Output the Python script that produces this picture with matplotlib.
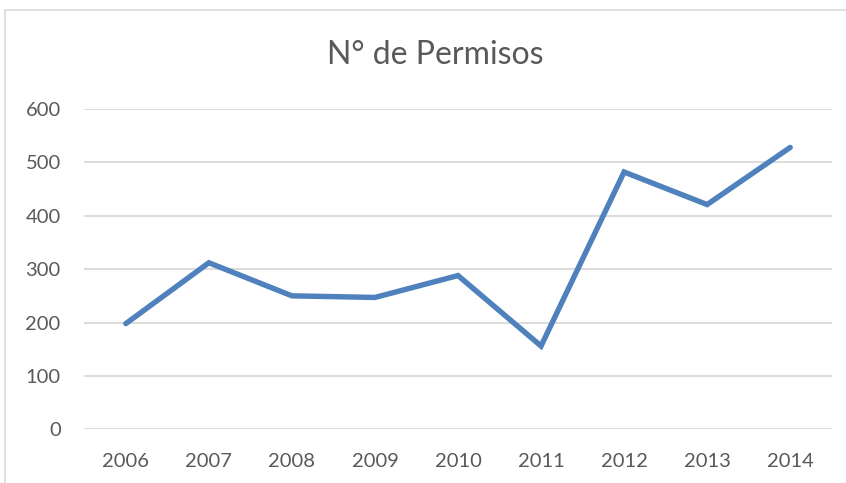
import matplotlib.pyplot as plt
from matplotlib.patches import Rectangle

# Number of permits per year
years = ['2006', '2007', '2008', '2009', '2010', '2011', '2012', '2013', '2014']
permisos = [198, 312, 250, 247, 288, 156, 482, 421, 528]
y_ticks = [0, 100, 200, 300, 400, 500, 600]

plt.rcParams['font.family'] = ['Lato', 'DejaVu Sans']

fig = plt.figure(figsize=(8.46, 4.83), dpi=100)

# light border of the chart box (cut off at right and bottom)
fig.patches.append(Rectangle((5 / 846, -0.1), 1.2, 1 - 10 / 483 + 0.1,
                             transform=fig.transFigure, fill=False,
                             edgecolor='#D9D9D9', linewidth=1.2))

ax = fig.add_axes([84.3 / 846, 1 - 429.3 / 483, 747.4 / 846, 320.3 / 483])
ax.plot(range(len(years)), permisos, color='#4F81BD', linewidth=3.9,
        solid_capstyle='round', solid_joinstyle='miter', zorder=3)

ax.set_xlim(-0.5, len(years) - 0.5)
ax.set_ylim(0, 600)
ax.set_xticks(range(len(years)))
ax.set_xticklabels(years)
ax.set_yticks(y_ticks)
ax.grid(axis='y', color='#D9D9D9', linewidth=1.3)
ax.set_axisbelow(True)
for s in ax.spines.values():
    s.set_visible(False)
ax.tick_params(length=0, labelsize=14.5, labelcolor='#595959')
ax.tick_params(axis='x', pad=17)
ax.tick_params(axis='y', pad=17)

fig.text(435 / 846, 1 - 55 / 483, 'N° de Permisos', ha='center', va='center',
         fontsize=23, color='#595959')

fig.savefig('out.png', dpi=100)
